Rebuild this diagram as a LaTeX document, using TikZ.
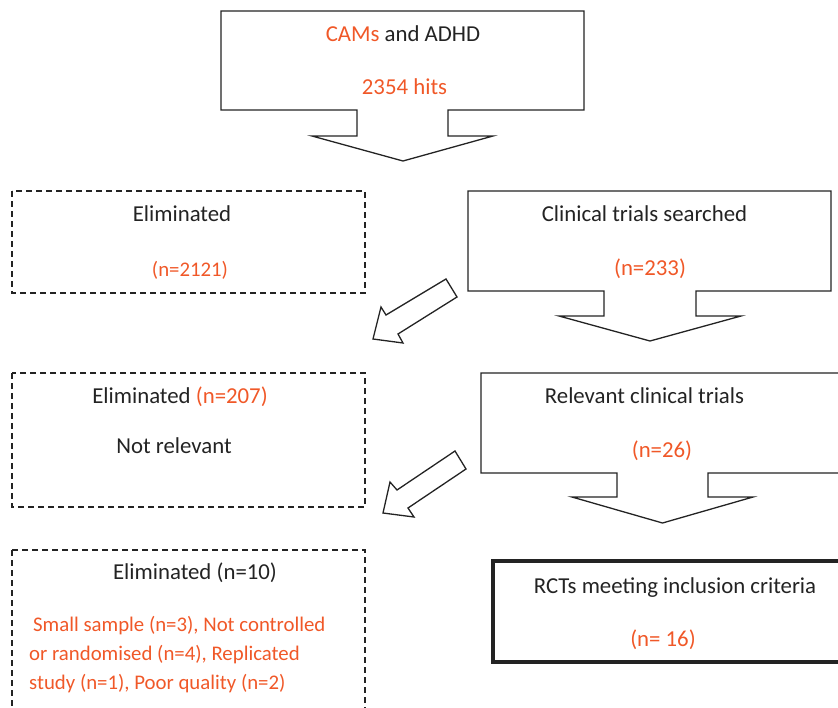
\documentclass[tikz,border=0pt]{standalone}
\usepackage{fontspec}
\setmainfont{Carlito}
\definecolor{hitred}{RGB}{240,88,40}
\definecolor{inkgray}{RGB}{35,35,35}
\tikzset{
  outline/.style={draw=inkgray, line width=1.3pt, line join=miter},
  elimbox/.style={draw=inkgray, line width=1.3pt, dash pattern=on 6pt off 4pt},
  boxtext/.style={text=inkgray, inner sep=0pt, anchor=base, font=\fontsize{22.8}{29}\selectfont},
  counttext/.style={boxtext, text=hitred},
  smalltext/.style={counttext, font=\fontsize{20.8}{29}\selectfont},
}
\begin{document}
\begin{tikzpicture}[x=1pt, y=-1pt]
  \useasboundingbox (0,0) rectangle (838,707);
  \clip (0,0) rectangle (838,707);

  % boxes with a drop arrow
  \draw[outline] (221,11) -- (584,11) -- (584,110) -- (448,110) -- (448,136) -- (493,136)
    -- (403,161) -- (312,136) -- (357,136) -- (357,110) -- (221,110) -- cycle;
  \draw[outline] (468,191) -- (831,191) -- (831,291) -- (696,291) -- (696,316) -- (741,316)
    -- (650,341) -- (559,316) -- (604,316) -- (604,291) -- (468,291) -- cycle;
  \draw[outline] (481,373) -- (846,373) -- (846,473) -- (708,473) -- (708,497) -- (753,497)
    -- (662.5,523) -- (572,497) -- (617,497) -- (617,473) -- (481,473) -- cycle;

  % eliminated boxes
  \draw[elimbox] (12,191) rectangle (365,293);
  \draw[elimbox] (12,373) rectangle (365,507);
  \draw[elimbox] (12,550) rectangle (365,730);

  % final box
  \draw[draw=inkgray, line width=4pt] (493,561) rectangle (860,662);

  % side arrows
  \draw[outline] (446,279) -- (386,315) -- (381,307) -- (373,339) -- (403,343) -- (398,334)
    -- (457,297) -- cycle;
  \draw[outline] (455,451) -- (397,490) -- (390,482) -- (383,513) -- (414,517) -- (408,508)
    -- (466,469) -- cycle;

  % texts
  \node[boxtext] (search) at (403,41) {\textcolor{hitred}{CAMs} and ADHD};
  \node[counttext] (hits) at (404.5,94) {2354 hits};

  \node[boxtext] (elimA) at (182,221) {Eliminated};
  \node[smalltext] (elimAn) at (190,276) {(n=2121)};

  \node[boxtext] (trials) at (644.5,221) {Clinical trials searched};
  \node[counttext] (trialsn) at (650,275) {(n=233)};

  \node[boxtext] (elimB) at (180,403) {Eliminated \textcolor{hitred}{(n=207)}};
  \node[boxtext] (notrel) at (174,453) {Not relevant};

  \node[boxtext] (relevant) at (644.5,403) {Relevant clinical trials};
  \node[counttext] (relevantn) at (662,457) {(n=26)};

  \node[boxtext] (elimC) at (195,579) {Eliminated (n=10)};
  \node[smalltext, anchor=base west] (reasonA) at (33,631) {Small sample (n=3), Not controlled};
  \node[smalltext, anchor=base west] (reasonB) at (29,660) {or randomised (n=4), Replicated};
  \node[smalltext, anchor=base west] (reasonC) at (29,689) {study (n=1), Poor quality (n=2)};

  \node[boxtext] (rct) at (675,593) {RCTs meeting inclusion criteria};
  \node[counttext] (rctn) at (663,646) {(n= 16)};
\end{tikzpicture}
\end{document}
